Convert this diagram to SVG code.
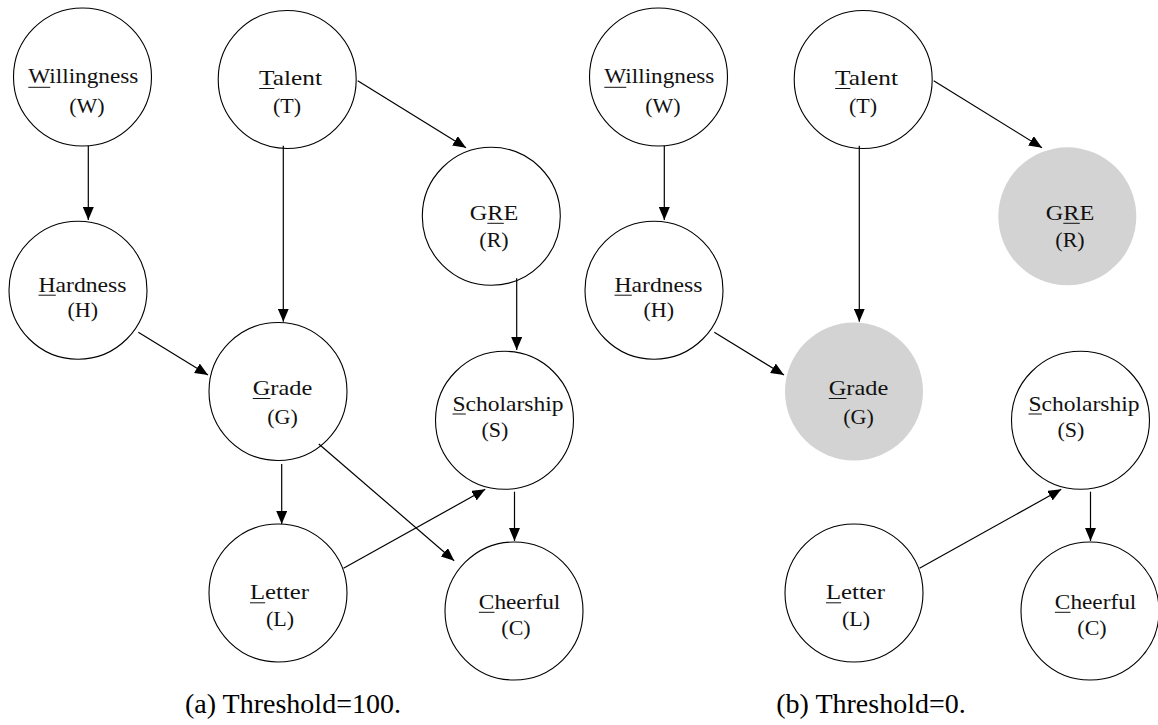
<svg xmlns="http://www.w3.org/2000/svg" width="1158" height="725" viewBox="0 0 1158 725">
  <style>
    .node circle { fill: #ffffff; stroke: #000000; stroke-width: 1.1; }
    .node.obs circle { fill: #d3d3d3; stroke: none; }
    .lbl { font-family: 'Liberation Serif', 'DejaVu Serif', serif; font-size: 22px; fill: #111111; text-anchor: middle; }
    .ul { stroke: #111111; stroke-width: 1; }
    .edge { stroke: #000000; stroke-width: 1.2; fill: none; marker-end: url(#arr); }
    .cap { font-family: 'Liberation Serif', 'DejaVu Serif', serif; font-size: 28px; fill: #000000; text-anchor: middle; }
  </style>
  <defs>
    <marker id="arr" markerWidth="13" markerHeight="11" refX="13" refY="5.5" orient="auto" markerUnits="userSpaceOnUse">
      <path d="M0,0 L13,5.5 L0,11 Z" fill="#000000"/>
    </marker>
  </defs>
  <rect width="1158" height="725" fill="#ffffff"/>

  <!-- (a) threshold 100 -->
  <g id="panel-a">
    <g id="a-W" class="node">
      <circle cx="82.5" cy="77" r="69"/>
      <text class="lbl" x="83.3" y="83.3" textLength="110" lengthAdjust="spacingAndGlyphs">Willingness</text>
      <line class="ul" x1="28.3" y1="87.3" x2="50.3" y2="87.3"/>
      <text class="lbl" x="87" y="113.3">(W)</text>
    </g>
    <g id="a-T" class="node">
      <circle cx="287.2" cy="79.5" r="69"/>
      <text class="lbl" x="290.5" y="85" textLength="63" lengthAdjust="spacingAndGlyphs">Talent</text>
      <line class="ul" x1="259.2" y1="88.5" x2="274.3" y2="88.5"/>
      <text class="lbl" x="287" y="113.3">(T)</text>
    </g>
    <g id="a-R" class="node">
      <circle cx="491.3" cy="216.3" r="69"/>
      <text class="lbl" x="494" y="220" textLength="48.5" lengthAdjust="spacingAndGlyphs">GRE</text>
      <line class="ul" x1="487.3" y1="223.3" x2="503.8" y2="223.3"/>
      <text class="lbl" x="494" y="246.7">(R)</text>
    </g>
    <g id="a-H" class="node">
      <circle cx="78" cy="290.2" r="69"/>
      <text class="lbl" x="82.5" y="291.7" textLength="88" lengthAdjust="spacingAndGlyphs">Hardness</text>
      <line class="ul" x1="38.5" y1="295.2" x2="55.8" y2="295.2"/>
      <text class="lbl" x="82.8" y="317.3">(H)</text>
    </g>
    <g id="a-G" class="node">
      <circle cx="278" cy="391.5" r="69"/>
      <text class="lbl" x="282.5" y="395" textLength="59.5" lengthAdjust="spacingAndGlyphs">Grade</text>
      <line class="ul" x1="252.8" y1="398.5" x2="270.4" y2="398.5"/>
      <text class="lbl" x="282.5" y="424">(G)</text>
    </g>
    <g id="a-S" class="node">
      <circle cx="504.5" cy="420.3" r="69"/>
      <text class="lbl" x="508" y="410.5" textLength="111" lengthAdjust="spacingAndGlyphs">Scholarship</text>
      <line class="ul" x1="452.5" y1="414" x2="465.8" y2="414"/>
      <text class="lbl" x="495" y="436.7">(S)</text>
    </g>
    <g id="a-L" class="node">
      <circle cx="278" cy="593" r="69"/>
      <text class="lbl" x="279.5" y="599.3" textLength="59" lengthAdjust="spacingAndGlyphs">Letter</text>
      <line class="ul" x1="250" y1="602.8" x2="265.2" y2="602.8"/>
      <text class="lbl" x="280" y="626">(L)</text>
    </g>
    <g id="a-C" class="node">
      <circle cx="514" cy="611" r="69"/>
      <text class="lbl" x="519.6" y="608.8" textLength="81.5" lengthAdjust="spacingAndGlyphs">Cheerful</text>
      <line class="ul" x1="478.9" y1="612.3" x2="494.5" y2="612.3"/>
      <text class="lbl" x="516" y="635">(C)</text>
    </g>
    <g id="a-edges">
      <line class="edge" x1="88.3" y1="145.7" x2="88.3" y2="220"/>
      <line class="edge" x1="283.3" y1="145.7" x2="283.3" y2="321.7"/>
      <line class="edge" x1="357.7" y1="80.7" x2="466" y2="147.7"/>
      <line class="edge" x1="516.7" y1="278.3" x2="516.7" y2="350"/>
      <line class="edge" x1="138.3" y1="332.3" x2="208" y2="375"/>
      <line class="edge" x1="281.7" y1="464" x2="281.7" y2="524"/>
      <line class="edge" x1="318.8" y1="444" x2="454.2" y2="560.7"/>
      <line class="edge" x1="514.5" y1="491.7" x2="514.5" y2="541"/>
      <line class="edge" x1="343.5" y1="568.3" x2="485.3" y2="489.3"/>
    </g>
    <text id="cap-a" class="cap" x="293" y="713.3">(a) Threshold=100.</text>
  </g>

  <!-- (b) threshold 0: same layout, shifted right; G and R shaded -->
  <g id="panel-b">
    <g id="b-W" class="node">
      <circle cx="658.5" cy="77" r="69"/>
      <text class="lbl" x="659.3" y="83.3" textLength="110" lengthAdjust="spacingAndGlyphs">Willingness</text>
      <line class="ul" x1="604.3" y1="87.3" x2="626.3" y2="87.3"/>
      <text class="lbl" x="663" y="113.3">(W)</text>
    </g>
    <g id="b-T" class="node">
      <circle cx="863.2" cy="79.5" r="69"/>
      <text class="lbl" x="866.5" y="85" textLength="63" lengthAdjust="spacingAndGlyphs">Talent</text>
      <line class="ul" x1="835.2" y1="88.5" x2="850.3" y2="88.5"/>
      <text class="lbl" x="863" y="113.3">(T)</text>
    </g>
    <g id="b-R" class="node obs">
      <circle cx="1067.3" cy="216.3" r="69"/>
      <text class="lbl" x="1070" y="220" textLength="48.5" lengthAdjust="spacingAndGlyphs">GRE</text>
      <line class="ul" x1="1063.3" y1="223.3" x2="1079.8" y2="223.3"/>
      <text class="lbl" x="1070" y="246.7">(R)</text>
    </g>
    <g id="b-H" class="node">
      <circle cx="654" cy="290.2" r="69"/>
      <text class="lbl" x="658.5" y="291.7" textLength="88" lengthAdjust="spacingAndGlyphs">Hardness</text>
      <line class="ul" x1="614.5" y1="295.2" x2="631.8" y2="295.2"/>
      <text class="lbl" x="658.8" y="317.3">(H)</text>
    </g>
    <g id="b-G" class="node obs">
      <circle cx="854" cy="391.5" r="69"/>
      <text class="lbl" x="858.5" y="395" textLength="59.5" lengthAdjust="spacingAndGlyphs">Grade</text>
      <line class="ul" x1="828.8" y1="398.5" x2="846.4" y2="398.5"/>
      <text class="lbl" x="858.5" y="424">(G)</text>
    </g>
    <g id="b-S" class="node">
      <circle cx="1080.5" cy="420.3" r="69"/>
      <text class="lbl" x="1084" y="410.5" textLength="111" lengthAdjust="spacingAndGlyphs">Scholarship</text>
      <line class="ul" x1="1028.5" y1="414" x2="1041.8" y2="414"/>
      <text class="lbl" x="1071" y="436.7">(S)</text>
    </g>
    <g id="b-L" class="node">
      <circle cx="854" cy="593" r="69"/>
      <text class="lbl" x="855.5" y="599.3" textLength="59" lengthAdjust="spacingAndGlyphs">Letter</text>
      <line class="ul" x1="826" y1="602.8" x2="841.2" y2="602.8"/>
      <text class="lbl" x="856" y="626">(L)</text>
    </g>
    <g id="b-C" class="node">
      <circle cx="1090" cy="611" r="69"/>
      <text class="lbl" x="1095.6" y="608.8" textLength="81.5" lengthAdjust="spacingAndGlyphs">Cheerful</text>
      <line class="ul" x1="1054.9" y1="612.3" x2="1070.5" y2="612.3"/>
      <text class="lbl" x="1092" y="635">(C)</text>
    </g>
    <g id="b-edges">
      <line class="edge" x1="664.3" y1="145.7" x2="664.3" y2="220"/>
      <line class="edge" x1="859.3" y1="145.7" x2="859.3" y2="321.7"/>
      <line class="edge" x1="933.7" y1="80.7" x2="1042" y2="147.7"/>
      <line class="edge" x1="714.3" y1="332.3" x2="784" y2="375"/>
      <line class="edge" x1="1090.5" y1="491.7" x2="1090.5" y2="541"/>
      <line class="edge" x1="919.5" y1="568.3" x2="1061.3" y2="489.3"/>
    </g>
    <text id="cap-b" class="cap" x="871" y="713.3">(b) Threshold=0.</text>
  </g>
</svg>
